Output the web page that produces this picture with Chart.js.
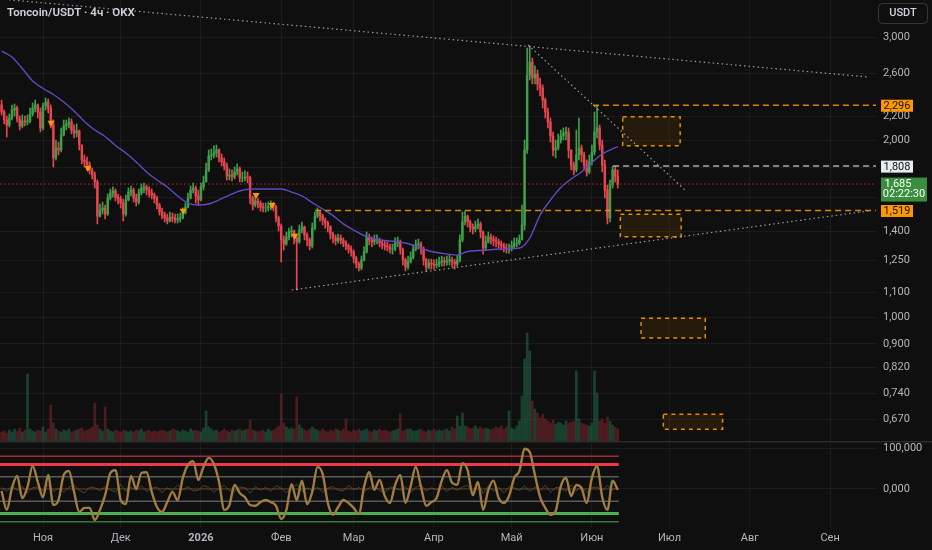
<!DOCTYPE html>
<html><head><meta charset="utf-8">
<script src="https://cdn.jsdelivr.net/npm/chart.js@4.4.1/dist/chart.umd.min.js"></script>
<style>
html,body{margin:0;padding:0;background:#0f0f0f;width:932px;height:550px;overflow:hidden}
#w1{position:absolute;left:0;top:0;width:932px;height:441px}
#w2{position:absolute;left:0;top:441px;width:932px;height:109px}
</style></head><body>
<div id="w1"><canvas id="c1"></canvas></div>
<div id="w2"><canvas id="c2"></canvas></div>
<script>
// ---------- DATA (days counted from 2025-11-01; first candle = 2025-10-16) ----------
const FIRST_DAY = -16;
const FIRST_OPEN = 2.30;
const closes = [
2.236,2.167,2.125,2.184,2.253,2.271,2.176,2.117,2.158,2.150,
2.158,2.219,2.271,2.298,2.236,2.100,2.289,2.325,2.271,2.125,
1.867,1.941,1.926,2.043,2.117,2.133,2.150,2.083,2.059,2.075,
1.964,1.852,1.838,1.816,1.781,1.746,1.699,1.486,1.522,1.534,
1.498,1.595,1.627,1.640,1.601,1.589,1.564,1.498,1.583,1.633,
1.646,1.595,1.570,1.627,1.659,1.666,1.646,1.627,1.614,1.595,
1.552,1.510,1.492,1.475,1.457,1.480,1.475,1.463,1.469,1.475,
1.504,1.540,1.595,1.646,1.659,1.608,1.583,1.666,1.699,1.781,
1.882,1.889,1.904,1.926,1.867,1.838,1.809,1.739,1.746,1.733,
1.767,1.788,1.726,1.726,1.733,1.726,1.595,1.552,1.577,1.564,
1.540,1.534,1.534,1.540,1.546,1.540,1.475,1.429,1.353,1.332,
1.369,1.396,1.402,1.364,1.343,1.407,1.424,1.380,1.353,1.322,
1.418,1.486,1.510,1.486,1.463,1.446,1.429,1.385,1.364,1.348,
1.364,1.353,1.337,1.322,1.306,1.291,1.260,1.231,1.212,1.251,
1.291,1.369,1.353,1.343,1.353,1.353,1.337,1.327,1.322,1.317,
1.306,1.306,1.337,1.343,1.301,1.251,1.217,1.241,1.265,1.306,
1.327,1.332,1.306,1.251,1.217,1.236,1.231,1.226,1.231,1.241,
1.246,1.241,1.246,1.251,1.241,1.231,1.251,1.353,1.452,1.486,
1.452,1.424,1.413,1.429,1.441,1.396,1.311,1.343,1.369,1.358,
1.348,1.343,1.332,1.322,1.311,1.306,1.306,1.322,1.337,1.337,
1.353,1.435,1.926,2.585,2.721,2.555,2.595,2.496,2.457,2.343,
2.236,2.150,2.035,1.926,1.941,2.003,2.035,2.059,2.067,1.926,
1.816,1.781,1.889,1.941,1.889,1.816,1.767,1.838,1.911,2.067,
2.100,1.964,1.816,1.646,1.475,1.679,1.781,1.739,1.685];
const highs = [
2.343,2.253,2.201,2.219,2.298,2.307,2.289,2.201,2.210,2.201,
2.210,2.271,2.316,2.343,2.307,2.271,2.316,2.362,2.352,2.298,
2.167,2.003,1.987,2.100,2.167,2.167,2.184,2.176,2.125,2.133,
2.083,1.964,1.889,1.874,1.838,1.795,1.767,1.712,1.558,1.570,
1.552,1.620,1.653,1.666,1.653,1.620,1.608,1.589,1.614,1.659,
1.672,1.659,1.620,1.653,1.686,1.692,1.679,1.666,1.653,1.627,
1.608,1.564,1.534,1.510,1.498,1.510,1.504,1.498,1.498,1.504,
1.534,1.564,1.627,1.672,1.692,1.672,1.646,1.692,1.739,1.830,
1.926,1.934,1.957,1.964,1.934,1.896,1.867,1.830,1.788,1.781,
1.802,1.823,1.802,1.767,1.774,1.767,1.739,1.608,1.614,1.595,
1.577,1.564,1.564,1.570,1.577,1.570,1.552,1.486,1.441,1.375,
1.396,1.418,1.429,1.407,1.385,1.435,1.452,1.429,1.391,1.364,
1.446,1.510,1.534,1.522,1.498,1.475,1.457,1.429,1.396,1.380,
1.385,1.380,1.364,1.348,1.332,1.322,1.301,1.270,1.241,1.270,
1.317,1.396,1.385,1.369,1.380,1.380,1.364,1.353,1.348,1.343,
1.332,1.332,1.364,1.369,1.353,1.311,1.260,1.270,1.291,1.327,
1.353,1.358,1.343,1.317,1.260,1.255,1.255,1.251,1.255,1.265,
1.270,1.265,1.270,1.275,1.265,1.255,1.275,1.380,1.510,1.516,
1.492,1.463,1.441,1.457,1.469,1.452,1.402,1.375,1.396,1.385,
1.375,1.369,1.358,1.348,1.337,1.332,1.332,1.348,1.364,1.364,
1.380,1.552,2.003,2.874,2.896,2.763,2.679,2.636,2.555,2.486,
2.362,2.271,2.184,2.067,2.003,2.051,2.083,2.100,2.108,2.100,
1.926,1.838,2.083,2.184,1.964,1.911,1.852,1.889,1.964,2.236,
2.296,2.125,2.003,1.852,1.679,1.712,1.808,1.802,1.781];
const lows = [
2.210,2.133,2.027,2.108,2.167,2.201,2.150,2.083,2.100,2.117,
2.125,2.142,2.201,2.236,2.184,2.067,2.083,2.253,2.227,2.100,
1.802,1.852,1.889,1.911,2.035,2.083,2.100,2.051,2.019,2.027,
1.926,1.823,1.802,1.781,1.753,1.719,1.659,1.441,1.480,1.498,
1.469,1.490,1.583,1.601,1.577,1.558,1.534,1.457,1.486,1.577,
1.608,1.570,1.546,1.558,1.614,1.627,1.614,1.601,1.589,1.564,
1.528,1.492,1.469,1.452,1.441,1.452,1.452,1.446,1.446,1.452,
1.469,1.498,1.534,1.589,1.627,1.564,1.552,1.577,1.646,1.706,
1.770,1.852,1.867,1.874,1.838,1.809,1.781,1.712,1.712,1.706,
1.719,1.746,1.699,1.699,1.706,1.692,1.558,1.522,1.540,1.534,
1.516,1.510,1.510,1.516,1.522,1.516,1.452,1.401,1.241,1.301,
1.325,1.353,1.369,1.332,1.112,1.335,1.391,1.353,1.322,1.301,
1.311,1.407,1.475,1.457,1.435,1.418,1.396,1.358,1.337,1.327,
1.337,1.332,1.317,1.301,1.285,1.270,1.236,1.212,1.198,1.203,
1.246,1.285,1.327,1.317,1.327,1.332,1.317,1.306,1.301,1.296,
1.285,1.280,1.296,1.317,1.280,1.226,1.198,1.207,1.236,1.255,
1.296,1.306,1.280,1.226,1.198,1.207,1.207,1.207,1.212,1.217,
1.221,1.221,1.226,1.226,1.217,1.207,1.221,1.241,1.343,1.435,
1.424,1.396,1.385,1.396,1.413,1.364,1.280,1.301,1.337,1.332,
1.322,1.317,1.311,1.301,1.291,1.285,1.285,1.296,1.311,1.317,
1.327,1.375,1.407,1.900,2.535,2.496,2.496,2.437,2.381,2.271,
2.184,2.100,1.987,1.882,1.867,1.926,1.979,2.003,2.003,1.867,
1.781,1.746,1.767,1.852,1.838,1.781,1.739,1.753,1.816,1.889,
2.019,1.926,1.767,1.595,1.441,1.452,1.659,1.699,1.659];
const volumes = [
9,10,8,11,9,12,10,13,9,11,
67,12,10,9,11,10,14,9,12,36,
18,12,10,9,11,10,12,9,10,11,
12,13,10,11,12,14,38,16,12,10,
34,12,10,9,11,10,9,11,10,9,
10,9,11,10,12,9,10,11,9,10,
9,10,11,10,9,10,12,11,10,9,
11,10,9,12,10,11,10,9,13,30,
14,12,10,11,9,10,12,10,9,11,
10,11,12,10,11,12,21,11,10,9,
10,11,9,12,10,11,13,15,47,18,
14,12,13,12,44,16,13,11,10,12,
14,12,11,10,12,10,9,11,10,12,
11,10,12,22,10,9,11,10,12,10,
11,12,10,9,11,10,12,10,11,10,
9,10,11,12,27,10,11,12,12,10,
10,11,12,10,9,11,10,12,10,11,
10,11,12,10,14,12,25,15,28,15,
14,12,13,15,12,14,12,13,12,11,
12,14,13,15,12,14,30,13,12,15,
20,45,82,108,90,40,32,28,23,27,
22,20,18,21,17,19,18,16,20,18,
19,20,70,22,18,17,16,15,18,70,
48,20,22,18,24,20,16,14,12];
const maDays = [-16,-12,-8,-4,0,4,8,12,16,20,24,28,32,36,40,44,48,52,56,60,64,68,72,76,80,84,88,92,96,100,104,108,112,116,120,124,128,132,136,140,144,148,152,156,160,164,168,172,176,180,184,188,192,196,200,204,208,212,216,220,222];
const maValues = [2.840,2.774,2.652,2.525,2.452,2.395,2.325,2.245,2.154,2.083,2.031,1.960,1.903,1.838,1.767,1.712,1.666,1.608,1.564,1.552,1.558,1.583,1.614,1.640,1.653,1.653,1.653,1.653,1.633,1.608,1.567,1.528,1.489,1.441,1.407,1.377,1.358,1.350,1.345,1.337,1.321,1.301,1.288,1.281,1.275,1.293,1.298,1.301,1.306,1.308,1.311,1.363,1.492,1.583,1.662,1.719,1.767,1.834,1.896,1.934,1.951];
const OSC_FIRST_DAY = -16, OSC_STEP_DAYS = 2;
const oscValues = [
-5,-51,2,32,-22,5,56,17,-20,34,
-39,-27,34,44,-7,-56,-46,-46,-76,-51,
-15,39,46,-27,-37,32,0,39,41,-7,
-44,-56,-32,-7,-27,27,59,68,22,54,
76,61,17,-51,-39,10,-10,-20,-39,-41,
-32,-27,-32,-41,-73,-51,12,-27,20,-37,
-7,54,37,-34,-63,-44,-27,-34,-46,-61,
5,41,-2,22,-17,-34,10,34,-34,7,
54,5,-41,-32,-22,20,46,15,10,63,
46,-15,17,-51,-2,20,-22,-34,-17,27,
44,98,90,34,-20,-46,-63,-54,7,27,
-17,10,2,-34,27,56,-20,-51,20,-2];
const oscNoise = [
4,-6,8,-3,6,-9,3,5,-4,10,
-6,2,-8,4,9,-3,-10,5,3,-4,
6,-2,-8,11,-5,4,-3,8,-6,2,
5,-9,3,-4,10,-2,6,-5,-3,8,
4,-8,2,9,-4,-6,5,3,-10,6,
-3,4,-5,8,2,-9,4,11,-6,3,
-4,5,-8,2,6,-3,-5,9,-2,4,
-6,3,8,-4,-9,5,2,-3,6,-8,
4,10,-5,3,-2,8,-6,4,-3,5,
9,-8,14,-11,8,-5,4,-10,6,3,
-4,8,-6,5,-3,9,-8,4,2,-5,
10,-4,6,-9,3,5,-3,8,-2,4];
const oscLevels = [80, 60, 30, 0, -30, -60, -80];
const OSC_END_DAY = 222.4;
const markerDays = [3.1, 17.3, 54.1, 82.3, 88.5, 97.2];
const markerPrices = [2.144, 1.795, 1.518, 1.614, 1.552, 1.375];
const priceTicks = [3.0, 2.6, 2.2, 2.0, 1.8, 1.6, 1.4, 1.25, 1.1, 1.0, 0.9, 0.82, 0.74, 0.67];
const hiddenPriceLabels = [1.8, 1.6];
const oscTicks = [100, 0];
const monthDays = [0, 30, 61, 92, 120, 151, 181, 212, 242, 273, 304];
const monthLabels = ['Ноя','Дек','2026','Фев','Мар','Апр','Май','Июн','Июл','Авг','Сен'];
const trendStartDays = [-16.61, 187.4, 96.1];
const trendStartPrices = [3.484, 2.908, 1.112];
const trendEndDays = [318.7, 248.0, 318.7];
const trendEndPrices = [2.565, 1.646, 1.516];
const levelPrices = [2.296, 1.808, 1.519, 1.685];
const levelStartDays = [212.4, 220.2, 105.1, -16.61];
const zoneStartDays = [223.9, 223.0, 231.0, 239.6];
const zoneEndDays = [246.1, 246.5, 255.8, 262.5];
const zoneTops = [2.195, 1.496, 0.995, 0.683];
const zoneBottoms = [1.958, 1.370, 0.921, 0.644];
const LAST_PRICE = 1.685;
const COUNTDOWN = '02:22:30';
const TITLE = 'Toncoin/USDT · 4ч · OKX';
const CURRENCY = 'USDT';

// ---------- VIEW ----------
const X_MIN = -16.61, X_MAX = 321.74;
const P_MIN = 0.6147, P_MAX = 3.4699;
const OSC_MIN = -92.7, OSC_MAX = 112.2;
const AXIS_W = 56;
const BG = '#0f0f0f';
const GRID = 'rgba(255,255,255,0.05)';
const TXT = '#b4b6bd';
const FONT = 'Roboto, "Noto Sans", sans-serif';
const UP = '#3f9f4b', DOWN = '#e5464f';
const fmt = v => Number(v).toFixed(3).replace('.', ',');

Chart.defaults.font.family = FONT;
Chart.defaults.animation = false;

const days = closes.map((_, i) => FIRST_DAY + i);
const opens = closes.map((c, i) => i ? closes[i - 1] : FIRST_OPEN);
const candleColors = closes.map((c, i) => c >= opens[i] ? UP : DOWN);
const volColors = closes.map((c, i) => c >= opens[i] ? 'rgba(38,115,80,0.5)' : 'rgba(140,42,50,0.5)');

const levelStyles = [
  {c:'rgba(255,152,0,0.85)', d:[6,4], w:1.5},
  {c:'rgba(210,210,210,0.8)', d:[6,4], w:1.5},
  {c:'rgba(255,152,0,0.85)', d:[6,4], w:1.5},
  {c:'rgba(242,54,69,0.8)', d:[1.5,2.5], w:1}
];
const labelStyles = [
  {bg:'#ff9800', fg:'#111'},
  {bg:'#e9ecef', fg:'#111'},
  {bg:'#ff9800', fg:'#111'},
];

const mainDatasets = [
  { type:'bar', label:'vol', yAxisID:'yv', grouped:false, order:10,
    data: days.map((d, i) => ({x:d, y:volumes[i]})),
    backgroundColor: volColors, barThickness:2, borderWidth:0 },
  { type:'bar', label:'wick', yAxisID:'y', grouped:false, order:4,
    data: days.map((d, i) => ({x:d, y:[lows[i], highs[i]]})),
    backgroundColor: candleColors, barThickness:1, borderWidth:0 },
  { type:'bar', label:'body', yAxisID:'y', grouped:false, order:3,
    data: days.map((d, i) => ({x:d, y:[opens[i], closes[i]]})),
    backgroundColor: candleColors, barThickness:1.8, borderWidth:0 },
  { type:'line', label:'ma', yAxisID:'y', order:2,
    data: maDays.map((d, i) => ({x:d, y:maValues[i]})),
    borderColor:'#6248c4', borderWidth:1.4, pointRadius:0, cubicInterpolationMode:'monotone' },
];
trendStartDays.forEach((d, i) => mainDatasets.push({
  type:'line', yAxisID:'y', order:1,
  data:[{x:d, y:trendStartPrices[i]}, {x:trendEndDays[i], y:trendEndPrices[i]}],
  borderColor:'rgba(190,190,190,0.8)', borderWidth:1.2, borderDash:[1.5,3], pointRadius:0
}));
levelPrices.forEach((p, i) => mainDatasets.push({
  type:'line', yAxisID:'y', order:1,
  data:[{x:levelStartDays[i], y:p}, {x:X_MAX, y:p}],
  borderColor:levelStyles[i].c, borderWidth:levelStyles[i].w, borderDash:levelStyles[i].d, pointRadius:0
}));
mainDatasets.push({
  type:'line', yAxisID:'y', order:0, showLine:false,
  data: markerDays.map((d, i) => ({x:d, y:markerPrices[i]})),
  pointStyle:'triangle', rotation:180, pointRadius:4, backgroundColor:'#ff9800', borderWidth:0
});

const mainPlugin = {
  id:'mainDeco',
  beforeDraw(chart){
    const c = chart.ctx; c.save(); c.fillStyle = BG; c.fillRect(0,0,chart.width,chart.height); c.restore();
  },
  beforeDatasetsDraw(chart){
    const {ctx, scales:{x, y}} = chart;
    ctx.save();
    zoneStartDays.forEach((d, i) => {
      const x0 = x.getPixelForValue(d), x1 = x.getPixelForValue(zoneEndDays[i]);
      const y0 = y.getPixelForValue(zoneTops[i]), y1 = y.getPixelForValue(zoneBottoms[i]);
      ctx.fillStyle = 'rgba(255,152,0,0.09)';
      ctx.fillRect(x0, y0, x1 - x0, y1 - y0);
      ctx.setLineDash([4,4]); ctx.lineWidth = 1.5; ctx.strokeStyle = 'rgba(255,152,0,0.9)';
      ctx.strokeRect(x0, y0, x1 - x0, y1 - y0);
    });
    ctx.restore();
  },
  afterDraw(chart){
    const {ctx, scales:{y}} = chart;
    ctx.save();
    ctx.textBaseline = 'middle';
    ctx.font = '600 11.5px ' + FONT; ctx.fillStyle = '#d1d4dc'; ctx.textAlign = 'left';
    ctx.fillText(TITLE, 7, 13);
    ctx.strokeStyle = 'rgba(255,255,255,0.16)'; ctx.lineWidth = 1;
    ctx.beginPath(); ctx.roundRect(878.5, 3.5, 49, 20, 4); ctx.stroke();
    ctx.font = '500 11px ' + FONT; ctx.fillStyle = '#d1d4dc'; ctx.textAlign = 'center';
    ctx.fillText(CURRENCY, 903, 13.5);
    ctx.font = '11px ' + FONT;
    [0,1,2].forEach(i => {
      const yp = y.getPixelForValue(levelPrices[i]);
      ctx.fillStyle = labelStyles[i].bg;
      ctx.fillRect(881, yp - 5.5, 32, 12);
      ctx.fillStyle = labelStyles[i].fg;
      ctx.fillText(fmt(levelPrices[i]), 897, yp + 0.8);
    });
    const yl = y.getPixelForValue(LAST_PRICE);
    ctx.fillStyle = '#388e3c';
    ctx.fillRect(881, yl - 6.5, 46, 24);
    ctx.fillStyle = '#ffffff';
    ctx.fillText(fmt(LAST_PRICE), 898, yl + 0.5);
    ctx.fillText(COUNTDOWN, 904, yl + 10.5);
    ctx.restore();
  }
};

const noPad = s => { s.width = AXIS_W; s.paddingTop = 0; s.paddingBottom = 0; };
const zeroBox = s => { s.width = 0; s.paddingTop = 0; s.paddingBottom = 0; s.paddingLeft = 0; s.paddingRight = 0; };
const pinPriceRange = s => { s.min = P_MIN; s.max = P_MAX; };

new Chart(document.getElementById('c1'), {
  type:'bar',
  data:{ datasets: mainDatasets },
  options:{
    responsive:true, maintainAspectRatio:false, animation:false, events:[],
    layout:{ padding:0, autoPadding:false },
    plugins:{ legend:{display:false}, tooltip:{enabled:false} },
    scales:{
      x:{ type:'linear', min:X_MIN, max:X_MAX, offset:false, position:'bottom',
          afterBuildTicks: s => { s.ticks = monthDays.map(v => ({value:v})); },
          ticks:{ display:false }, grid:{ color:GRID, drawTicks:false, offset:false }, border:{ display:false },
          afterFit: s => { s.height = 0; s.paddingLeft = 0; s.paddingRight = 0; } },
      y:{ type:'logarithmic', position:'right', min:P_MIN, max:P_MAX, beginAtZero:false, bounds:'data',
          afterDataLimits: pinPriceRange,
          afterBuildTicks: s => { pinPriceRange(s); s.ticks = priceTicks.map(v => ({value:v})); },
          ticks:{ color:TXT, font:{size:11}, padding:7, autoSkip:false,
                  callback: v => hiddenPriceLabels.includes(v) ? '' : fmt(v) },
          grid:{ color:GRID, drawTicks:false }, border:{ display:false },
          afterFit: s => { noPad(s); pinPriceRange(s); } },
      yv:{ type:'linear', display:false, position:'left', min:0, max:441,
           ticks:{ display:false }, grid:{ display:false }, afterFit: zeroBox }
    }
  },
  plugins:[mainPlugin]
});

// ---------- oscillator pane ----------
const oscDays = oscValues.map((_, i) => OSC_FIRST_DAY + i * OSC_STEP_DAYS);
const oscLevelStyles = [
  {c:'#a52a33', w:1.5}, {c:'#f23645', w:3}, {c:'#5a5a5e', w:1.5}, {c:'rgba(200,60,60,0.6)', w:1},
  {c:'#5a5a5e', w:1.5}, {c:'#4caf50', w:3}, {c:'#2e7d32', w:1.5}
];
const oscDatasets = oscLevels.map((L, i) => ({
  data:[{x:X_MIN, y:L}, {x:OSC_END_DAY, y:L}],
  borderColor:oscLevelStyles[i].c, borderWidth:oscLevelStyles[i].w, pointRadius:0, order:5
}));
oscDatasets.push({
  data: oscDays.map((d, i) => ({x:d, y:oscNoise[i]})),
  borderColor:'rgba(60,140,60,0.55)', borderWidth:1, pointRadius:0, order:4
});
oscDatasets.push({
  data: oscDays.map((d, i) => ({x:d, y:oscValues[i]})),
  borderColor:'#43a047', borderWidth:2.4, pointRadius:0, cubicInterpolationMode:'monotone', order:2
});
oscDatasets.push({
  data: oscDays.map((d, i) => ({x:d, y:oscValues[i]})),
  borderColor:'#ee5a3f', borderWidth:1.3, pointRadius:0, cubicInterpolationMode:'monotone', order:1
});

const oscPlugin = {
  id:'oscDeco',
  beforeDraw(chart){
    const c = chart.ctx; c.save(); c.fillStyle = BG; c.fillRect(0,0,chart.width,chart.height);
    c.fillStyle = '#2c2c2e'; c.fillRect(0,0,chart.width,1.5); c.restore();
  }
};

new Chart(document.getElementById('c2'), {
  type:'line',
  data:{ datasets: oscDatasets },
  options:{
    responsive:true, maintainAspectRatio:false, animation:false, events:[],
    layout:{ padding:{ top:2, left:0, right:0, bottom:0 }, autoPadding:false },
    plugins:{ legend:{display:false}, tooltip:{enabled:false} },
    scales:{
      x:{ type:'linear', min:X_MIN, max:X_MAX, offset:false,
          afterBuildTicks: s => { s.ticks = monthDays.map(v => ({value:v})); },
          ticks:{ color:TXT, padding:5, maxRotation:0, autoSkip:false,
                  font: ctx => ({ size:11, weight: (ctx.tick && ctx.tick.value === monthDays[2]) ? 'bold' : 'normal' }),
                  callback: v => monthLabels[monthDays.indexOf(v)] },
          grid:{ color:GRID, drawTicks:false }, border:{ display:false },
          afterFit: s => { s.height = 23; s.paddingLeft = 0; s.paddingRight = 0; } },
      y:{ type:'linear', position:'right', min:OSC_MIN, max:OSC_MAX,
          afterBuildTicks: s => { s.ticks = oscTicks.map(v => ({value:v})); },
          ticks:{ color:TXT, font:{size:11}, padding:7, callback: v => fmt(v) },
          grid:{ color:GRID, drawTicks:false }, border:{ display:false },
          afterFit: noPad }
    }
  },
  plugins:[oscPlugin]
});
</script>
</body></html>
